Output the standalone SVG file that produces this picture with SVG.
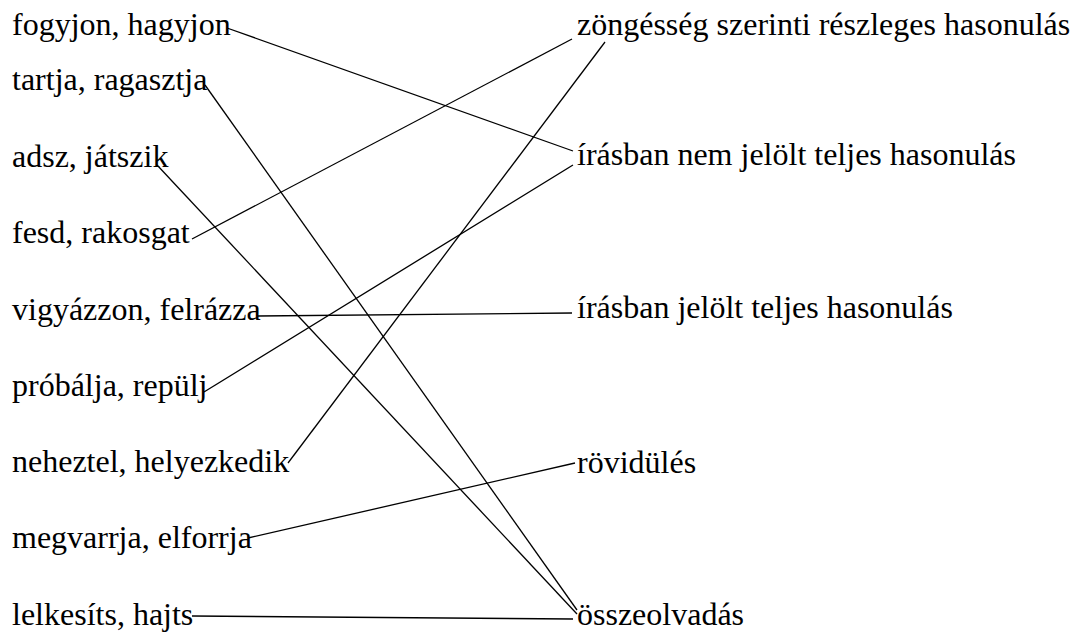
<svg xmlns="http://www.w3.org/2000/svg" width="1078" height="633" viewBox="0 0 1078 633">
<style>
.c line { stroke: #000; stroke-width: 1.3; }
</style>
<rect width="1078" height="633" fill="#fff"/>
<g class="c" id="connectors">
<line x1="227" y1="28" x2="573" y2="151"/>
<line x1="205" y1="85" x2="577" y2="610"/>
<line x1="157" y1="165" x2="577" y2="614"/>
<line x1="192" y1="239" x2="572" y2="39"/>
<line x1="258" y1="316" x2="572" y2="313"/>
<line x1="204" y1="392" x2="573" y2="165"/>
<line x1="288" y1="463" x2="605" y2="42"/>
<line x1="248" y1="538" x2="575" y2="463"/>
<line x1="192" y1="616" x2="573" y2="619"/>
</g>
<g font-family="Liberation Serif" font-size="32" fill="#000">
<g id="l1"><text x="12" y="35">fogyjon, hagyjon</text></g>
<g id="l2"><text x="12" y="90">tartja, ragasztja</text></g>
<g id="l3"><text x="12" y="167">adsz, játszik</text></g>
<g id="l4"><text x="12" y="243">fesd, rakosgat</text></g>
<g id="l5"><text x="12" y="320">vigyázzon, felrázza</text></g>
<g id="l6"><text x="12" y="396">próbálja, repülj</text></g>
<g id="l7"><text x="12" y="472">neheztel, helyezkedik</text></g>
<g id="l8"><text x="12" y="548">megvarrja, elforrja</text></g>
<g id="l9"><text x="12" y="625">lelkesíts, hajts</text></g>
<g id="r1"><text x="577" y="35">zöngésség szerinti részleges hasonulás</text></g>
<g id="r2"><text x="577" y="165">írásban nem jelölt teljes hasonulás</text></g>
<g id="r3"><text x="577" y="318">írásban jelölt teljes hasonulás</text></g>
<g id="r4"><text x="577" y="473">rövidülés</text></g>
<g id="r5"><text x="577" y="625">összeolvadás</text></g>
</g>
</svg>
